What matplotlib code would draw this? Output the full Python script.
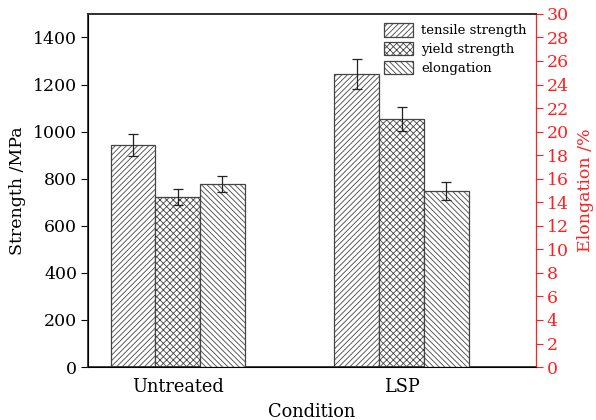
import matplotlib
matplotlib.use("Agg")
import matplotlib.pyplot as plt
import numpy as np

plt.rcParams['font.family'] = ['DejaVu Serif']
plt.rcParams['hatch.linewidth'] = 0.6
plt.rcParams['hatch.color'] = '#333333'

# dados
condicoes = ['Untreated', 'LSP']
tensile = [943, 1245]
tensile_err = [47, 62]
yield_s = [722, 1054]
yield_err = [35, 51]
elong = [15.55, 14.96]      # %
elong_err = [0.67, 0.75]

fig, ax = plt.subplots(figsize=(5.96, 4.2), dpi=100)
fig.subplots_adjust(left=0.148, right=0.899, top=0.967, bottom=0.126)
ax2 = ax.twinx()

x = np.arange(len(condicoes))
w = 0.2
ek = dict(ecolor='#222222', elinewidth=0.9, capsize=3.5, capthick=0.9)

b1 = ax.bar(x - w, tensile, w, yerr=tensile_err, color='white', edgecolor='#444444',
            hatch='//////', linewidth=0.9, error_kw=ek, label='tensile strength')
b2 = ax.bar(x, yield_s, w, yerr=yield_err, color='white', edgecolor='#444444',
            hatch='xxxxx', linewidth=0.9, error_kw=ek, label='yield strength')
b3 = ax2.bar(x + w, elong, w, yerr=elong_err, color='white', edgecolor='#444444',
             hatch='\\\\\\\\\\\\', linewidth=0.9, error_kw=ek, label='elongation')

ax.set_xlim(-0.4, 1.6)
ax.set_ylim(0, 1500)
ax2.set_ylim(0, 30)
ax.set_yticks(np.arange(0, 1401, 200))
ax2.set_yticks(np.arange(0, 31, 2))
ax.set_xticks(x)
ax.set_xticklabels(condicoes)

ax.tick_params(axis='y', direction='out', length=5, labelsize=12.5, pad=3)
ax.tick_params(axis='x', length=0, labelsize=12.8, pad=8)
ax2.tick_params(axis='y', direction='out', length=5, labelsize=12.5, pad=3,
                colors='#ff2020')
ax2.spines['right'].set_color('#ff2020')
for s in ['left', 'bottom', 'top']:
    ax.spines[s].set_color('#333333')
    ax.spines[s].set_linewidth(1.3)
ax2.spines['top'].set_linewidth(1.3)
ax2.spines['top'].set_color('#333333')

ax.set_ylabel('Strength /MPa', fontsize=12.5, labelpad=5)
ax.set_xlabel('Condition', fontsize=12.8, labelpad=5)
ax2.set_ylabel('Elongation /%', fontsize=12.5, color='#ff2020', labelpad=6)

ax2.legend(handles=[b1, b2, b3], loc='upper right', frameon=False, fontsize=9.5,
           handlelength=2.2, handleheight=1.2, handletextpad=0.6,
           labelspacing=0.35, borderaxespad=0.4, borderpad=0.3)

fig.savefig('out.png', dpi=100)
